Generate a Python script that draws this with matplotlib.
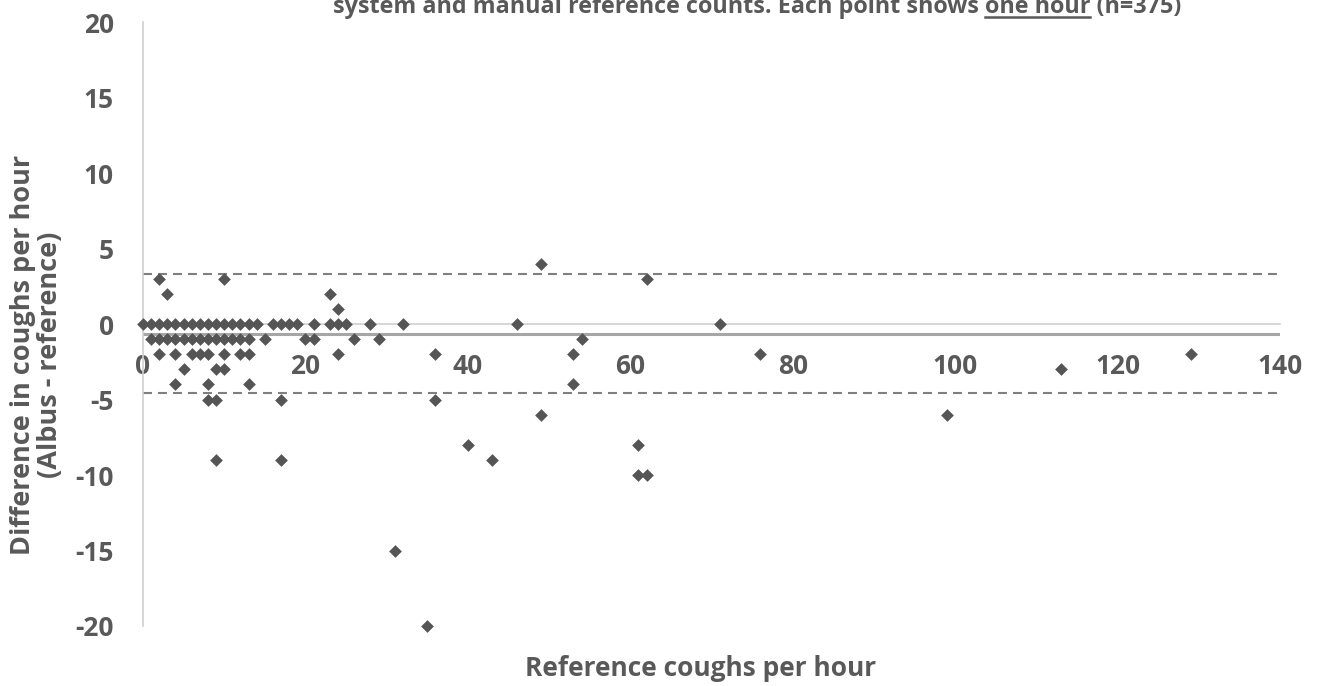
import matplotlib
matplotlib.use('Agg')
import matplotlib.pyplot as plt
from matplotlib.lines import Line2D

plt.rcParams['font.family'] = ['Open Sans', 'DejaVu Sans']
plt.rcParams['axes.unicode_minus'] = False

# hourly points: reference coughs per hour vs difference (Albus - reference)
ref_counts = [0, 1, 2, 3, 4, 5, 6, 7, 8, 9, 10, 11, 12, 13, 14, 16, 17, 18, 19, 21, 23, 24, 25, 28, 32, 46, 71,
              24, 3, 23, 2, 10, 62, 49,
              1, 2, 3, 4, 5, 6, 7, 8, 9, 10, 11, 12, 13, 15, 20, 21, 26, 29, 54,
              2, 4, 6, 7, 8, 10, 12, 13, 24, 36, 53, 76, 129,
              5, 9, 10, 113,
              4, 8, 13, 53,
              8, 9, 17, 36,
              49, 99,
              40, 61,
              9, 17, 43,
              61, 62,
              31, 35]
differences = [0] * 27 + [1, 2, 2, 3, 3, 3, 4] + [-1] * 19 + [-2] * 13 + [-3] * 4 + [-4] * 4 + [-5] * 4 \
    + [-6] * 2 + [-8] * 2 + [-9] * 3 + [-10] * 2 + [-15, -20]

mean_diff = -0.64
upper_loa = 3.3
lower_loa = -4.6

x_ticks = [0, 20, 40, 60, 80, 100, 120, 140]
y_ticks = [20, 15, 10, 5, 0, -5, -10, -15, -20]

txt_col = '#595959'
W, H = 1320, 686

fig = plt.figure(figsize=(13.2, 6.86), dpi=100)
ax = fig.add_axes([143 / W, 60 / H, (1280 - 143) / W, (664 - 60) / H])
ax.set_xlim(0, 140)
ax.set_ylim(-20, 20)

ax.axhline(upper_loa, color='#7f7f7f', lw=1.5, ls=(0, (4.3, 2.9)), zorder=1)
ax.axhline(lower_loa, color='#7f7f7f', lw=1.5, ls=(0, (4.3, 2.9)), zorder=1)
ax.axhline(mean_diff, color='#a6a6a6', lw=2.2, zorder=1)

ax.scatter(ref_counts, differences, marker='D', s=42, color='#555555', linewidths=0, zorder=3, clip_on=False)

for s in ['top', 'right']:
    ax.spines[s].set_visible(False)
ax.spines['left'].set_color('#d0d0d0')
ax.spines['left'].set_linewidth(1.2)
ax.spines['bottom'].set_position(('data', 0))
ax.spines['bottom'].set_color('#d0d0d0')
ax.spines['bottom'].set_linewidth(1.2)
ax.spines['bottom'].set_zorder(0)

ax.set_xticks(x_ticks)
ax.set_yticks(y_ticks)
ax.tick_params(axis='x', length=0, pad=21, labelsize=19, labelcolor=txt_col)
ax.tick_params(axis='y', length=0, pad=21, labelsize=19, labelcolor=txt_col)
for lab in ax.get_xticklabels() + ax.get_yticklabels():
    lab.set_fontweight('bold')

fig.text(701 / W, 1 - 668 / H, 'Reference coughs per hour', ha='center', va='center',
         fontsize=19, fontweight='bold', color=txt_col)
fig.text(37 / W, 1 - 355 / H, 'Difference in coughs per hour\n(Albus - reference)', ha='center', va='center',
         rotation=90, fontsize=19.5, fontweight='bold', color=txt_col, linespacing=1.05)

# title, cut off at the top edge, with "one hour" underlined
prefix = 'system and manual reference counts. Each point shows '
under = 'one hour'
title = prefix + under + ' (n=375)'
tkw = dict(fontsize=16.8, fontweight='bold', color=txt_col, va='baseline')
t_full = fig.text(0, 1 - 13 / H, title, ha='left', **tkw)
fig.canvas.draw()
r = fig.canvas.get_renderer()
w_full = t_full.get_window_extent(r).width
tmp1 = fig.text(0, 0, prefix + under, **tkw)
tmp2 = fig.text(0, 0, under, **tkw)
w_pu = tmp1.get_window_extent(r).width
w_u = tmp2.get_window_extent(r).width
tmp1.remove()
tmp2.remove()
x0 = 757 - w_full / 2
t_full.set_x(x0 / W)
ux1 = x0 + w_pu - w_u
ux2 = x0 + w_pu
fig.add_artist(Line2D([ux1 / W, ux2 / W], [1 - 16.5 / H, 1 - 16.5 / H], transform=fig.transFigure,
                      color=txt_col, lw=1.8))

fig.savefig('out.png', dpi=100)
